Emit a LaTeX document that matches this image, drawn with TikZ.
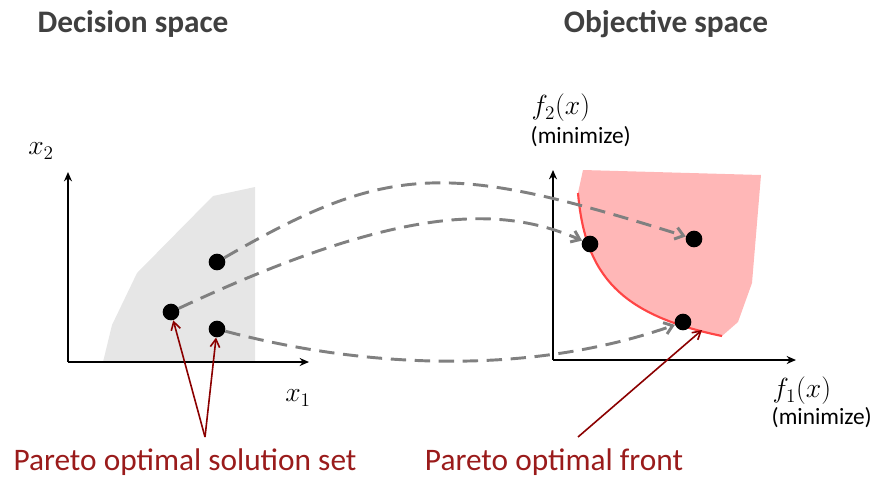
\documentclass[tikz,border=0pt]{standalone}
\usepackage{fontspec}
\setmainfont{Carlito}
\usetikzlibrary{arrows.meta}
\definecolor{titlegray}{HTML}{404040}
\definecolor{regiongray}{HTML}{E6E6E6}
\definecolor{regionred}{HTML}{FFB7B7}
\definecolor{frontred}{HTML}{FF4545}
\definecolor{darkred}{HTML}{9A1B1B}
\definecolor{arrowred}{HTML}{8B0000}
\definecolor{dashgray}{HTML}{808080}
\tikzset{
  title/.style={font=\fontsize{23.5}{26}\selectfont\bfseries, text=titlegray},
  axis/.style={line width=2.2pt, -{Stealth[length=7pt,width=6pt]}},
  dot/.style={circle, fill=black, inner sep=0pt, minimum size=12.5pt},
  mapping/.style={draw=dashgray, line width=2.2pt, dash pattern=on 11.5pt off 6.5pt, -{Straight Barb[length=6pt,width=9pt]}},
  pointer/.style={draw=arrowred, line width=1.2pt, -{Straight Barb[length=6pt,width=7pt]}},
  lbl/.style={font=\fontsize{23.5}{26}\selectfont, text=darkred},
  small/.style={font=\fontsize{17.5}{20}\selectfont},
  mathlbl/.style={font=\fontsize{21}{24}\selectfont},
}
\begin{document}
\begin{tikzpicture}[x=0.75pt,y=-0.75pt]
\useasboundingbox (0,0) rectangle (878,479);
% titles
\node[title] (t1) at (133,24) {Decision space};
\node[title] (t2) at (666,24) {Objective space};
% decision region
\fill[regiongray] (103,362) -- (112,325) -- (137,273) -- (213,196) -- (255,187) -- (255,362) -- cycle;
% objective region
\fill[regionred] (583,170) -- (761,175) -- (752,283) -- (738,322) -- (722,336)
   .. controls (620,315) and (585,275) .. (578,193) -- cycle;
\draw[frontred, line width=1.6pt] (578,193) .. controls (585,275) and (620,315) .. (722,336);
% axes
\coordinate (o1) at (68,362);
\coordinate (y1) at (68,172);
\coordinate (x1e) at (309,362);
\draw[axis] (o1) -- (y1);
\draw[axis] (o1) -- (x1e);
\coordinate (o2) at (553,360);
\coordinate (y2) at (553,170);
\coordinate (x2e) at (796,360);
\draw[axis] (o2) -- (y2);
\draw[axis] (o2) -- (x2e);
% axis labels
\node[mathlbl] (lx2) at (41,151) {$x_2$};
\node[mathlbl] (lx1) at (298,398) {$x_1$};
\node[mathlbl, anchor=west] (lf2) at (527,108) {$f_2(x)$};
\node[small, anchor=west] (lm2) at (526,137) {(minimize)};
\node[mathlbl, anchor=west] (lf1) at (768,391) {$f_1(x)$};
\node[small, anchor=west] (lm1) at (767,418) {(minimize)};
% dots
\node[dot] (a) at (217,262) {};
\node[dot] (b) at (171,312) {};
\node[dot] (c) at (217,329) {};
\node[dot] (fa) at (694,239) {};
\node[dot] (fb) at (590,244) {};
\node[dot] (fc) at (683,322) {};
% mappings
\draw[mapping] (a) .. controls (390,162) and (448,162) .. (fa);
\draw[mapping] (b) .. controls (400,205) and (500,205) .. (fb);
\draw[mapping] (c) .. controls (380,372) and (541,372) .. (fc);
% pointers
\coordinate (apex) at (205,437);
\coordinate (fp) at (578,437);
\coordinate (fpt) at (702,330);
\draw[pointer] (apex) -- (b);
\draw[pointer] (apex) -- (c);
\draw[pointer] (fp) -- (fpt);
% labels
\node[lbl] (l1) at (185,462) {Pareto optimal solution set};
\node[lbl] (l2) at (554,462) {Pareto optimal front};
\end{tikzpicture}
\end{document}
